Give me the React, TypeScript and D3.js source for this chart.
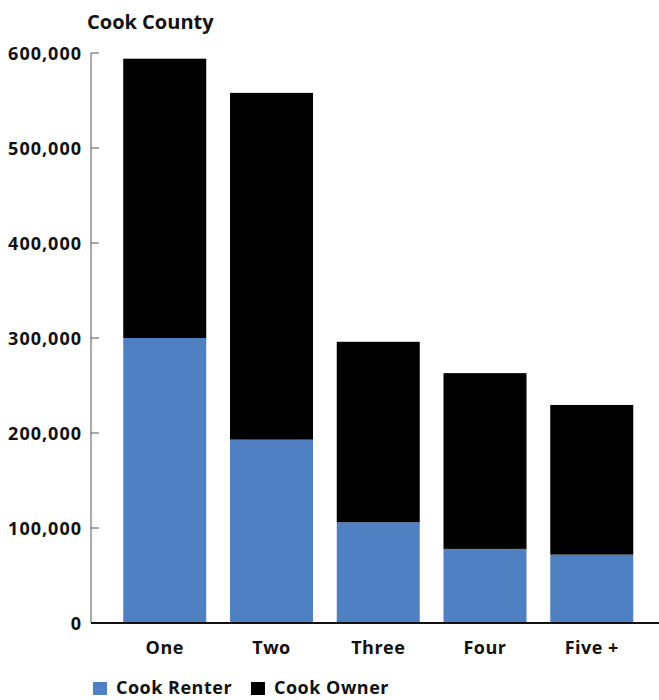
import React from "react";
import * as d3 from "d3";

const categories = ["One", "Two", "Three", "Four", "Five +"];
const renter = [300000, 193000, 106000, 78000, 72000];
const owner = [294000, 365000, 190000, 185000, 157500];
const seriesNames = ["Cook Renter", "Cook Owner"];
const seriesColors = ["#4f81c2", "#000000"];
const yTicks = [0, 100000, 200000, 300000, 400000, 500000, 600000];
const title = "Cook County";

const W = 659;
const H = 700;
const FONT = "'Open Sans', 'Noto Sans', sans-serif";

export default function App() {
  const x = d3.scaleBand<string>().domain(categories).range([111.5, 645]).paddingInner(0.2225).paddingOuter(0.11);
  const y = d3.scaleLinear().domain([0, 600000]).range([623, 53]);
  const fmt = d3.format(",");
  const rows = categories.map((c, i) => ({ cat: c, Renter: renter[i], Owner: owner[i] }));
  const stack = d3.stack<any>().keys(["Renter", "Owner"])(rows);

  return (
    <svg width={W} height={H} style={{ position: "absolute", left: 0, top: 0 }} fontFamily={FONT}>
      <rect width={W} height={H} fill="#fff" />
      <text x={87} y={29} fontSize={20} fontWeight="bold" fill="#111">{title}</text>
      {stack.map((layer, si) =>
        layer.map((d, i) => (
          <rect
            key={si + "-" + i}
            x={x(categories[i])}
            width={x.bandwidth()}
            y={y(d[1])}
            height={y(d[0]) - y(d[1])}
            fill={seriesColors[si]}
          />
        ))
      )}
      <line x1={91} x2={91} y1={y(600000)} y2={y(0)} stroke="#555" strokeWidth={1} />
      {yTicks.map((t) => (
        <g key={t}>
          <line x1={91} x2={99} y1={y(t)} y2={y(t)} stroke="#555" strokeWidth={1} />
          <text x={82} y={y(t) + 6.5} textAnchor="end" fontSize={18} letterSpacing={1} fontWeight="bold" fill="#111">
            {fmt(t)}
          </text>
        </g>
      ))}
      <line x1={91} x2={W} y1={y(0)} y2={y(0)} stroke="#111" strokeWidth={2} />
      {categories.map((c) => (
        <text key={c} x={x(c)! + x.bandwidth() / 2} y={654} textAnchor="middle" fontSize={18} letterSpacing={0.5} fontWeight="bold" fill="#111">
          {c}
        </text>
      ))}
      {seriesNames.map((n, i) => {
        const lx = [93, 251][i];
        return (
          <g key={n}>
            <rect x={lx} y={682} width={14} height={13} fill={seriesColors[i]} />
            <text x={lx + 23} y={694} fontSize={18} letterSpacing={0.5} fontWeight="bold" fill="#111">{n}</text>
          </g>
        );
      })}
    </svg>
  );
}
